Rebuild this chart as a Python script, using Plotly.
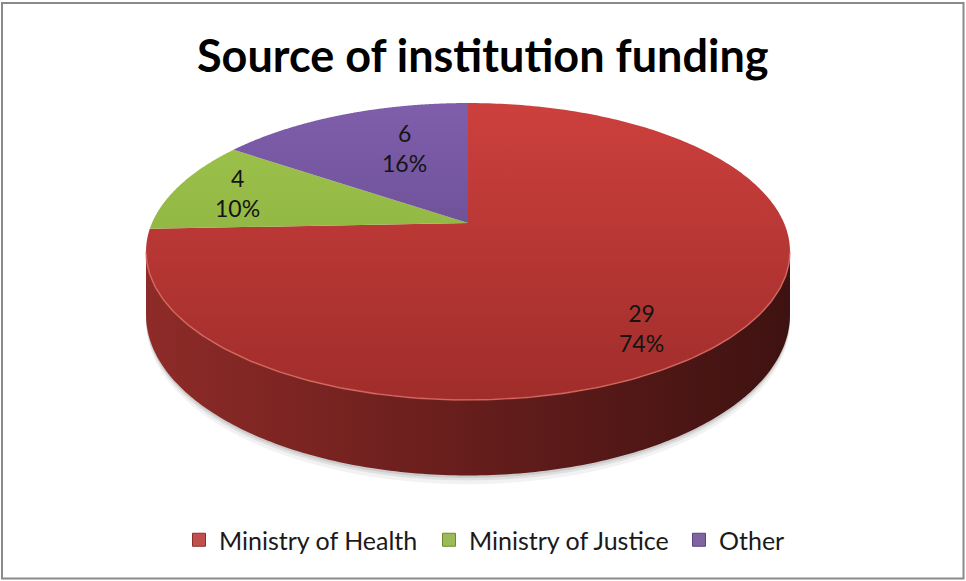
import numpy as np
import plotly.graph_objects as go

# ---- data ----
categories = ["Ministry of Health", "Ministry of Justice", "Other"]
counts = [29, 4, 6]
percent_labels = ["74%", "10%", "16%"]

# ---- style ----
top_colors = [("#CC403D", "#A02D2B"), ("#9EC44C", "#84A83B"), ("#7F5EAB", "#5A4183")]
side_colors = [("#8E2B28", "#6A1F1D", "#3E1211"), ("#6E8A2E", "#5A7225", "#3F5219"),
               ("#5A4283", "#47346A", "#2E2046")]
legend_colors = ["#C0504D", "#9BBB59", "#8064A2"]
legend_edges = ["#8C2E2B", "#6E8A2E", "#5A4283"]
label_radius = [0.69, 0.79, 0.47]
label_yshift = [-30, 0, 20]

W, H = 966, 581
CX, CY = 468, 223      # projected centre of the pie top
RX, RY = 316, 143      # radii of the tilted disc
K = 0.192              # perspective foreshortening (far edge smaller)
DEPTH = 61             # thickness of the disc
FONT = "Lato"


def proj(theta, r=1.0, drop=0.0):
    """Project a point of the tilted disc (angle clockwise from 12 o'clock)."""
    u = r * np.sin(theta)
    v = r * np.cos(theta)
    s = 1.0 / (1.0 + K * v)
    return CX + RX * u * s, CY - RY * v * s + drop * s


total = float(sum(counts))
bounds = np.concatenate([[0.0], np.cumsum(counts) / total]) * 2 * np.pi
top_y = CY - RY / (1 + K)
bot_y = CY + RY / (1 - K)

fig = go.Figure()

# visible front arc of the rim (between the two silhouette tangents)
t_ext = np.arccos(-K)
front = (t_ext, 2 * np.pi - t_ext)

# soft shadow under the disc
for grow, alpha in [(7, 0.05), (4, 0.07), (2, 0.09)]:
    th = np.linspace(front[0], front[1], 200)
    xs, ys = proj(th, 1.0, DEPTH + grow)
    xt, yt = proj(th[::-1], 1.0, 0)
    fig.add_trace(go.Scatter(
        x=np.concatenate([xs, xt]), y=np.concatenate([ys, yt]),
        fill="toself", mode="none", fillcolor=f"rgba(0,0,0,{alpha})",
        hoverinfo="skip", showlegend=False))

# side wall of each slice that faces the viewer
for i in range(len(counts)):
    a0 = max(bounds[i], front[0])
    a1 = min(bounds[i + 1], front[1])
    if a1 <= a0:
        continue
    th = np.linspace(a0, a1, 200)
    xt, yt = proj(th)
    xb, yb = proj(th[::-1], 1.0, DEPTH)
    fig.add_trace(go.Scatter(
        x=np.concatenate([xt, xb]), y=np.concatenate([yt, yb]),
        fill="toself", mode="none",
        fillgradient=dict(type="horizontal",
                          colorscale=[[0, side_colors[i][0]], [0.45, side_colors[i][1]],
                                      [1, side_colors[i][2]]],
                          start=CX - RX * 1.02, stop=CX + RX * 1.02),
        hoverinfo="skip", showlegend=False))

# top faces of the slices
for i in range(len(counts)):
    th = np.linspace(bounds[i], bounds[i + 1], 300)
    xr, yr = proj(th)
    fig.add_trace(go.Scatter(
        x=np.concatenate([[CX], xr, [CX]]), y=np.concatenate([[CY], yr, [CY]]),
        fill="toself", mode="none",
        fillgradient=dict(type="vertical",
                          colorscale=[[0, top_colors[i][0]], [1, top_colors[i][1]]],
                          start=top_y, stop=bot_y),
        hoverinfo="skip", showlegend=False))

# light bevel along the front edge of the top face
th = np.linspace(front[0], front[1], 200)
xr, yr = proj(th)
fig.add_trace(go.Scatter(x=xr, y=yr, mode="lines",
                         line=dict(color="rgba(222,110,100,0.75)", width=1.6),
                         hoverinfo="skip", showlegend=False))

# data labels
annotations = []
for i in range(len(counts)):
    mid = 0.5 * (bounds[i] + bounds[i + 1])
    lx, ly = proj(mid, label_radius[i])
    annotations.append(dict(
        x=lx, y=ly, xref="x", yref="y", showarrow=False,
        text=f"{counts[i]}<br>{percent_labels[i]}", yshift=label_yshift[i],
        font=dict(family=FONT, size=23, color="#141414"), align="center"))

# chart title
annotations.append(dict(
    x=0.5, y=55, xref="paper", yref="y", showarrow=False,
    text="<b>Source of institution funding</b>",
    font=dict(family=FONT, size=45, color="#000000")))

# legend entries
for i, name in enumerate(categories):
    fig.add_trace(go.Scatter(
        x=[None], y=[None], mode="markers", name=name,
        marker=dict(symbol="square", size=13, color=legend_colors[i],
                    line=dict(color=legend_edges[i], width=1))))

fig.update_layout(
    width=W, height=H,
    margin=dict(l=0, r=0, t=0, b=0),
    paper_bgcolor="white", plot_bgcolor="white",
    xaxis=dict(range=[0, W], visible=False, fixedrange=True),
    yaxis=dict(range=[H, 0], visible=False, fixedrange=True),
    annotations=annotations,
    showlegend=True,
    legend=dict(orientation="h", x=179 / W, xanchor="left",
                y=(H - 540) / H, yanchor="middle",
                entrywidth=205, entrywidthmode="pixels",
                font=dict(family=FONT, size=25, color="#1a1a1a"),
                itemclick=False, itemdoubleclick=False),
    shapes=[dict(type="rect", xref="x", yref="y", x0=2, x1=963.5, y0=3, y1=578.5,
                 line=dict(color="#8a8a8a", width=2), fillcolor="rgba(0,0,0,0)")],
)

fig.write_html("out.html", config={"displayModeBar": False})
